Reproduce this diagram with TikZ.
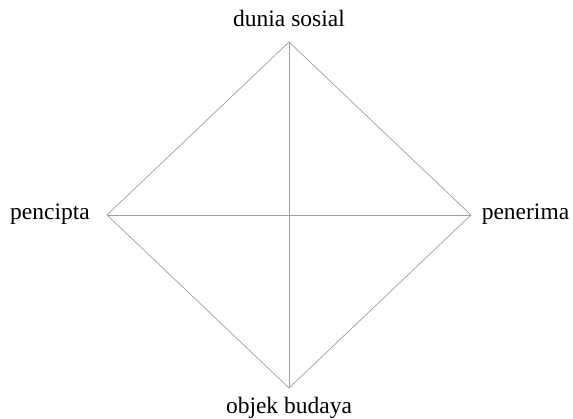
\documentclass[tikz,border=0pt]{standalone}
\usepackage{fontspec}
\setmainfont{Liberation Serif}
\begin{document}
\begin{tikzpicture}[x=1pt,y=1pt]
    \useasboundingbox (0,0) rectangle (573,418);
    \tikzset{kante/.style={draw=gray!75, line width=0.7pt},
             etikett/.style={anchor=base, inner sep=0pt, font=\fontsize{23.5}{28}\selectfont}}
    % Ecken
    \coordinate (T) at (289,376);
    \coordinate (L) at (107,203);
    \coordinate (R) at (471,203);
    \coordinate (B) at (289,30);

    % Raute und Diagonalen
    \draw[kante] (T) -- (R) -- (B) -- (L) -- cycle;
    \draw[kante] (T) -- (B);
    \draw[kante] (L) -- (R);

    % Beschriftung
    \node[etikett] (dunia) at (289,391) {dunia sosial};
    \node[etikett] (pencipta) at (50,198) {pencipta};
    \node[etikett] (penerima) at (525.5,198) {penerima};
    \node[etikett] (objek) at (289,5) {objek budaya};
\end{tikzpicture}
\end{document}
